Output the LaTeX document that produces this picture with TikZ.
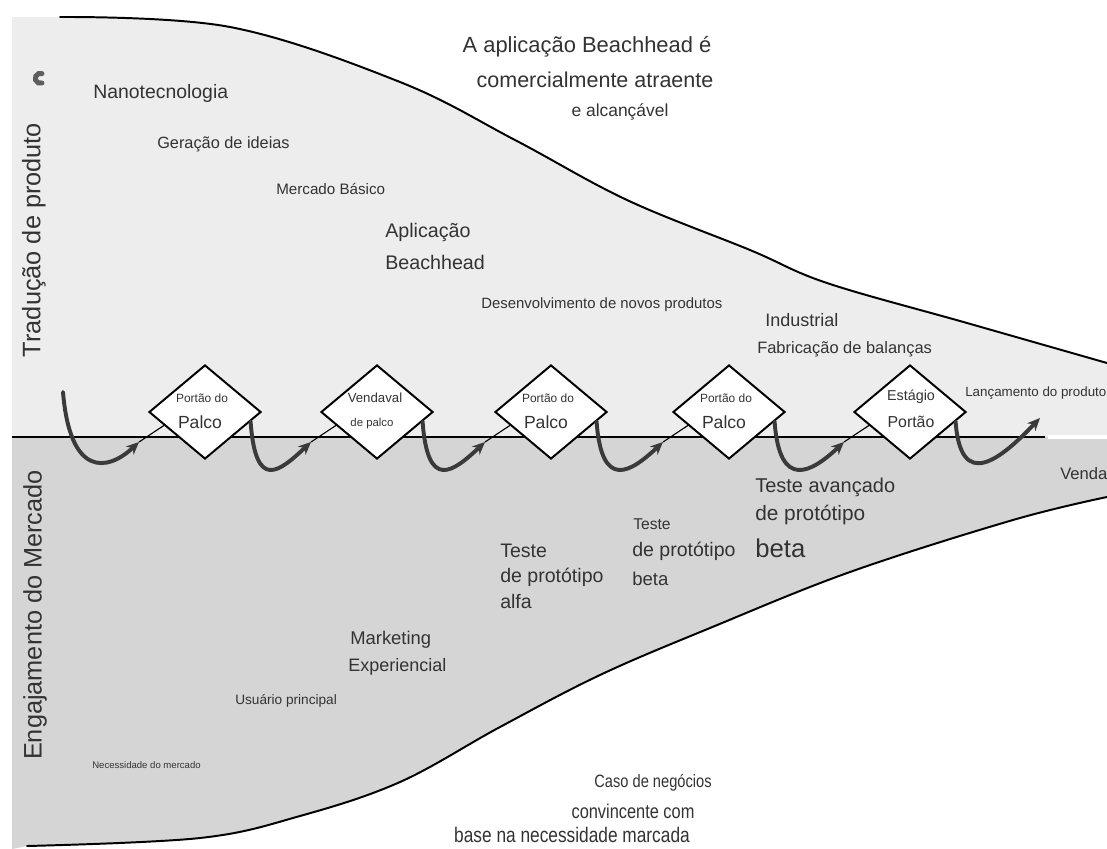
\documentclass[tikz,border=0pt]{standalone}
\usepackage{fontspec}
\setmainfont{Liberation Sans}
\newfontfamily\narrowfont[FakeStretch=0.82]{Liberation Sans}
\usetikzlibrary{shapes.geometric,arrows.meta,calc}
\definecolor{upperzone}{HTML}{EDEDED}
\definecolor{lowerzone}{HTML}{D5D5D5}
\definecolor{ink}{HTML}{333333}
\definecolor{hookink}{HTML}{3A3A3A}
\newcommand{\fsz}[1]{\fontsize{#1pt}{1.2\dimexpr #1pt\relax}\selectfont}
\begin{document}
\begin{tikzpicture}[x=0.025cm,y=-0.025cm,
  txt/.style={inner sep=0pt, text=ink, anchor=west},
  ctxt/.style={inner sep=0pt, text=ink},
  gate/.style={diamond, draw=black, line width=1.4pt, fill=white, inner sep=0pt,
    minimum width=2.8cm, minimum height=2.35cm},
  hookarrow/.style={draw=hookink, line width=2.8pt, line cap=round,
    -{Stealth[length=9pt,width=8pt]}},
  gatelink/.style={draw=black, line width=0.8pt},
  rim/.style={draw=black, line width=1.4pt, line cap=round}]

\useasboundingbox (0,0) rectangle (1107,849);
\fill[white] (0,0) rectangle (1107,849);

% upper zone: product translation
\fill[upperzone] (12,17) -- plot[smooth,tension=0.6] coordinates
  {(60,17) (230,27) (400,82) (515,140) (627,200) (750,250) (827,283) (967,323) (1107,363)}
  -- (1107,437) -- (12,437) -- cycle;
% lower zone: market engagement
\fill[lowerzone] (12,437) -- (1107,437) -- plot[smooth,tension=0.6] coordinates
  {(1107,497) (1013,520) (850,572) (710,628) (600,675) (500,727) (400,782) (300,816) (200,838) (27,846)}
  -- (12,849) -- cycle;

% funnel outline
\draw[rim] plot[smooth,tension=0.6] coordinates
  {(60,17) (230,27) (400,82) (515,140) (627,200) (750,250) (827,283) (967,323) (1107,363)};
\draw[rim] plot[smooth,tension=0.6] coordinates
  {(1107,497) (1013,520) (850,572) (710,628) (600,675) (500,727) (400,782) (300,816) (200,838) (27,846)};

% central axis
\draw[black, line width=1.6pt] (12,437) -- (1045,437);
\draw[white, line width=3pt] (1048,437) -- (1107,437);

% smudge mark
\draw[gray!55!black, line width=3.5pt, line cap=round, opacity=0.85]
  (42,83) arc[start angle=70, end angle=290, radius=5];

% side labels
\node[ctxt, rotate=90] (trad) at (34,240) {\fsz{18}Tradução de produto};
\node[ctxt, rotate=90] (eng) at (35,615) {\fsz{18}Engajamento do Mercado};

% stage gates
\node[gate] (d1) at (205,412) {};
\node[gate] (d2) at (377,412) {};
\node[gate] (d3) at (551,412) {};
\node[gate] (d4) at (729,412) {};
\node[gate] (d5) at (910,412) {};

\node[ctxt] (d1a) at (202,398) {\fsz{8.5}Portão do};
\node[ctxt] (d1b) at (200,422) {\fsz{12.5}Palco};
\node[ctxt] (d2a) at (375,398) {\fsz{9.4}Vendaval};
\node[ctxt] (d2b) at (372,424) {\fsz{8.1}de palco};
\node[ctxt] (d3a) at (548,398) {\fsz{8.5}Portão do};
\node[ctxt] (d3b) at (546,422) {\fsz{12.5}Palco};
\node[ctxt] (d4a) at (726,398) {\fsz{8.5}Portão do};
\node[ctxt] (d4b) at (724,422) {\fsz{12.5}Palco};
\node[ctxt] (d5a) at (911,397) {\fsz{10.2}Estágio};
\node[ctxt] (d5b) at (911,422) {\fsz{11.3}Portão};

% loop arrows between gates
\coordinate (s1) at (63,392);
\foreach \i/\p in {2/1,3/2,4/3,5/4,6/5}{
  \coordinate (s\i) at ($(d\p.east)!0.2!(d\p.south)$);
}
\foreach \i in {1,...,5}{
  \coordinate (t\i) at ($(d\i.west)+(-9,30)$);
  \coordinate (a\i) at ($(d\i.west)!0.28!(d\i.south)$);
}
\coordinate (t6) at (1040,418);

\draw[hookarrow] (s1) .. controls +(7,85) and +(-32,30) .. (t1);
\foreach \i in {2,...,5}{
  \draw[hookarrow] (s\i) .. controls +(5,70) and +(-32,30) .. (t\i);
}
\draw[hookarrow] (s6) .. controls +(5,70) and +(-40,42) .. (t6);
\foreach \i in {1,...,5}{
  \draw[gatelink] (t\i) -- (a\i);
}

% upper zone texts
\node[ctxt] (hd1) at (587,47) {\fsz{15.6}A aplicação Beachhead é};
\node[ctxt] (hd2) at (595,80) {\fsz{15.3}comercialmente atraente};
\node[ctxt] (hd3) at (620,112) {\fsz{12.4}e alcançável};
\node[txt] (nano) at (93,93) {\fsz{13.8}Nanotecnologia};
\node[txt] (ger) at (157,144) {\fsz{11.6}Geração de ideias};
\node[txt] (merc) at (276,189) {\fsz{10.8}Mercado Básico};
\node[txt] (apl) at (385,232) {\fsz{14}Aplicação};
\node[txt] (bea) at (385,262) {\fsz{14}Beachhead};
\node[txt] (dev) at (481,305) {\fsz{10.6}Desenvolvimento de novos produtos};
\node[txt] (ind) at (765,320) {\fsz{12.8}Industrial};
\node[txt] (fab) at (757,349) {\fsz{11.7}Fabricação de balanças};
\node[txt] (lan) at (965,393) {\fsz{9.5}Lançamento do produto};

% lower zone texts
\node[txt] (ven) at (1060,474) {\fsz{11.8}Venda};
\node[txt] (ta1) at (755,487) {\fsz{14.2}Teste avançado};
\node[txt] (ta2) at (755,515) {\fsz{14.8}de protótipo};
\node[txt] (ta3) at (755,548) {\fsz{18.3}beta};
\node[txt] (tb1) at (633,524) {\fsz{11.1}Teste};
\node[txt] (tb2) at (632,551) {\fsz{13.9}de protótipo};
\node[txt] (tb3) at (632,579) {\fsz{13.2}beta};
\node[txt] (tc1) at (500,551) {\fsz{13.9}Teste};
\node[txt] (tc2) at (500,577) {\fsz{13.9}de protótipo};
\node[txt] (tc3) at (500,602) {\fsz{13.9}alfa};
\node[txt] (mk1) at (350,640) {\fsz{13.1}Marketing};
\node[txt] (mk2) at (348,667) {\fsz{12.8}Experiencial};
\node[txt] (usu) at (235,701) {\fsz{9.7}Usuário principal};
\node[txt] (nec) at (92,765) {\fsz{6.8}Necessidade do mercado};

% business case below the funnel
\node[ctxt] (cs1) at (653,783) {\narrowfont\fsz{12.7}Caso de negócios};
\node[ctxt] (cs2) at (633,811) {\narrowfont\fsz{14.2}convincente com};
\node[ctxt] (cs3) at (572,835) {\narrowfont\fsz{15}base na necessidade marcada};
\end{tikzpicture}
\end{document}
